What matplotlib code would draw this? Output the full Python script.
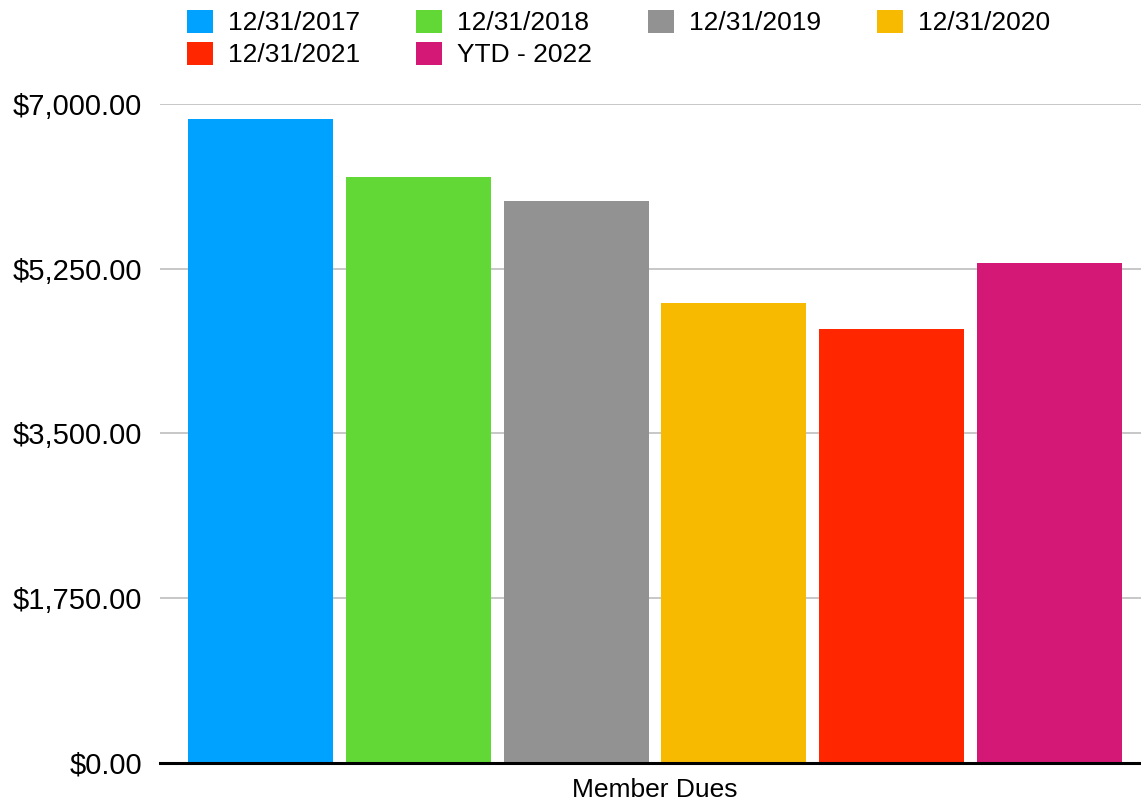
import matplotlib.pyplot as plt
from matplotlib.ticker import FuncFormatter

plt.rcParams['font.family'] = ['Liberation Sans', 'DejaVu Sans']

# values
labels = ['12/31/2017', '12/31/2018', '12/31/2019', '12/31/2020', '12/31/2021', 'YTD - 2022']
dues = [6840, 6225, 5970, 4886, 4610, 5311]
colors = ['#00A2FF', '#61D836', '#929292', '#F8BA00', '#FF2600', '#D31876']
yticks = [0, 1750, 3500, 5250, 7000]
category = 'Member Dues'

fig = plt.figure(figsize=(11.41, 8.07), dpi=100)
ax = fig.add_axes([160 / 1141, 1 - 763 / 807, 1 - 160 / 1141, (763 - 104) / 807])

bars = []
for i in range(len(dues)):
    b = ax.bar(i, dues[i], width=0.92, color=colors[i], label=labels[i], zorder=2)
    bars.append(b)

ax.set_ylim(0, 7000)
ax.set_xlim(-0.637, 5.58)
ax.set_yticks(yticks)
ax.yaxis.set_major_formatter(FuncFormatter(lambda v, p: f'${v:,.2f}'))
ax.set_xticks([(len(dues) - 1) / 2])
ax.set_xticklabels([category])
ax.tick_params(axis='both', length=0)
ax.tick_params(axis='y', pad=13, labelsize=21)
ax.tick_params(axis='x', pad=11, labelsize=19)
ax.grid(axis='y', color='#bdbdbd', linewidth=1.2, zorder=0)
ax.set_axisbelow(True)

for s in ['top', 'right', 'left']:
    ax.spines[s].set_visible(False)
ax.spines['bottom'].set_color('black')
ax.spines['bottom'].set_linewidth(2.2)
ax.spines['bottom'].set_zorder(3)

# legend fills column by column, so reorder to read across rows
order = [0, 4, 1, 5, 2, 3]
fig.legend([bars[i] for i in order], [labels[i] for i in order],
           loc='upper left', bbox_to_anchor=(187 / 1141, 1 - 10 / 807), ncol=4,
           frameon=False, fontsize=19, handlelength=1.0, handleheight=0.95,
           handletextpad=0.55, columnspacing=2.12, labelspacing=0.25,
           borderpad=0, borderaxespad=0)

fig.savefig('out.png', dpi=100)
